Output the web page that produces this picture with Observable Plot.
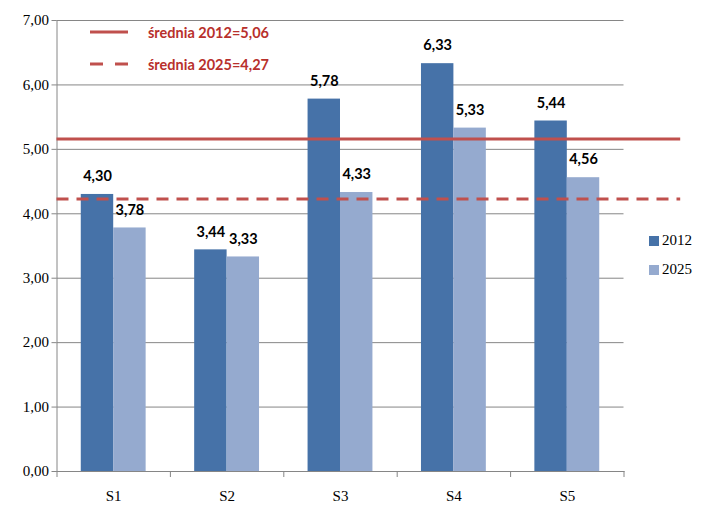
<!DOCTYPE html>
<html>
<head>
<meta charset="utf-8">
<script src="https://cdn.jsdelivr.net/npm/d3@7"></script>
<script src="https://cdn.jsdelivr.net/npm/@observablehq/plot@0.6"></script>
<style>
  body { margin: 0; background: #fff; }
  #wrap { position: relative; width: 714px; height: 514px; }
  .lg { position: absolute; display: flex; align-items: center; }
  .avg { font-family: Lato, "Open Sans", sans-serif; font-weight: bold; font-size: 14.5px; color: #B8302C; }
  .ser { font-family: "Liberation Serif", serif; font-size: 15px; color: #000; }
  .sw { width: 10px; height: 10px; margin-right: 3px; }
</style>
</head>
<body>
<div id="wrap"></div>
<script>
const categories = ["S1", "S2", "S3", "S4", "S5"];
const seriesNames = ["2012", "2025"];
const values2012 = [4.30, 3.44, 5.78, 6.33, 5.44];
const values2025 = [3.78, 3.33, 4.33, 5.33, 4.56];
const seriesColors = ["#4672A8", "#95AACF"];
const yTicks = [0, 1, 2, 3, 4, 5, 6, 7];
const avgLabels = ["średnia 2012=5,06", "średnia 2025=4,27"];
const avgLevels = [5.16, 4.23];   // where the lines are drawn in the picture
const avgColor = "#C0504D";

const fmt = d => d.toFixed(2).replace(".", ",");
const barW = 0.286;
const rows = categories.flatMap((c, i) => [
  {i, cat: c, series: seriesNames[0], v: values2012[i], x1: i - barW, x2: i},
  {i, cat: c, series: seriesNames[1], v: values2025[i], x1: i, x2: i + barW}
]);
const boundaries = d3.range(categories.length + 1).map(i => i - 0.5);

const chart = Plot.plot({
  width: 714,
  height: 514,
  marginLeft: 56.5,
  marginRight: 90.5,
  marginTop: 20,
  marginBottom: 43,
  x: {domain: [-0.5, categories.length - 0.5], axis: null},
  y: {domain: [0, 7], axis: null, label: null},
  style: {background: "#fff"},
  marks: [
    Plot.gridY(yTicks, {stroke: "#868686", strokeOpacity: 1}),
    Plot.rectY(rows, {x1: "x1", x2: "x2", y1: 0, y2: "v", fill: d => d.series === seriesNames[0] ? seriesColors[0] : seriesColors[1]}),
    Plot.frame({anchor: "left", stroke: "#868686"}),
    Plot.frame({anchor: "bottom", stroke: "#868686"}),
    Plot.axisY(yTicks, {tickFormat: fmt, tickSize: 5, tickPadding: 3, stroke: "#868686", fontSize: 15, fontFamily: "Liberation Serif, serif", fill: "#000", label: null}),
    Plot.axisX(boundaries, {tickFormat: () => "", tickSize: 6, stroke: "#868686", label: null}),
    Plot.axisX(d3.range(categories.length), {tickFormat: i => categories[i], tickSize: 0, tickPadding: 19, fontSize: 15, fontFamily: "Liberation Serif, serif", fill: "#000", label: null}),
    Plot.text(rows, {x: d => (d.x1 + d.x2) / 2, y: "v", text: d => fmt(d.v), dy: -18, fontWeight: "bold", fontSize: 14.5, fontFamily: "Lato, Open Sans, sans-serif", fill: "#000"}),
    Plot.ruleY([avgLevels[0]], {x1: -0.5, x2: categories.length, stroke: avgColor, strokeWidth: 3}),
    Plot.ruleY([avgLevels[1]], {x1: -0.5, x2: categories.length, stroke: avgColor, strokeWidth: 3, strokeDasharray: "12,8"})
  ]
});

const wrap = document.getElementById("wrap");
wrap.appendChild(chart);

// average-line legend (top left)
avgLabels.forEach((t, k) => {
  const el = document.createElement("div");
  el.className = "lg avg";
  el.style.left = "90px";
  el.style.top = (22 + k * 32) + "px";
  const dash = k === 0 ? "" : 'stroke-dasharray="13,12"';
  el.innerHTML = `<svg width="58" height="20"><line x1="0" x2="38" y1="10" y2="10" stroke="${avgColor}" stroke-width="3" ${dash}/></svg><span>${t}</span>`;
  wrap.appendChild(el);
});

// series legend (right)
seriesNames.forEach((s, k) => {
  const el = document.createElement("div");
  el.className = "lg ser";
  el.style.left = "649px";
  el.style.top = (232 + k * 29) + "px";
  el.innerHTML = `<div class="sw" style="background:${seriesColors[k]}"></div><span>${s}</span>`;
  wrap.appendChild(el);
});
</script>
</body>
</html>
